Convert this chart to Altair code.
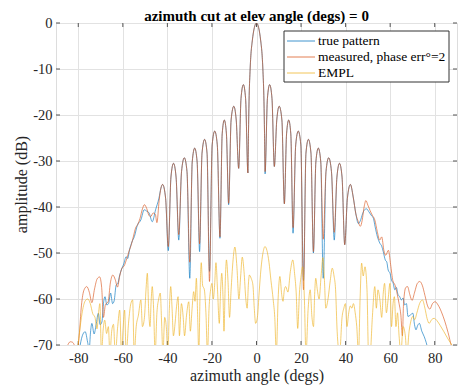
import altair as alt
import pandas as pd

SERIES = ["true pattern", "measured, phase err°=2", "EMPL"]
COLORS = ["#0072BD", "#D95319", "#EDB120"]

x_ticks = [-80, -60, -40, -20, 0, 20, 40, 60, 80]
y_ticks = [-70, -60, -50, -40, -30, -20, -10, 0]

# central lobes (shared azimuths)
center_x = [-42.15, -40.8, -39.6, -38.4, -37.25, -36.1, -34.9, -33.65, -32.4, -31.2,
            -29.95, -28.85, -27.75, -26.65, -25.55, -24.45, -23.3, -22.2, -21.1, -19.9,
            -18.75, -17.6, -16.4, -15.4, -14.45, -13.5, -12.5, -11.4, -10.2, -9.1,
            -8.0, -6.95, -5.9, -4.9, -3.85, -3.6, -3.35, -2.9, -1.9, 0.0,
            1.9, 2.9, 3.35, 3.6, 3.85, 4.9, 5.9, 6.95, 8.0, 9.1,
            10.2, 11.4, 12.5, 13.5, 14.45, 15.4, 16.4, 17.6, 18.75, 19.9,
            21.1, 22.2, 23.3, 24.45, 25.55, 26.65, 27.75, 28.85, 29.95, 31.2,
            32.4, 33.65, 34.9, 36.1, 37.25, 38.4, 39.6, 40.8, 42.15]
meas_center_db = [-35.1, -38.1, -48.6, -33.5, -30.5, -33.5, -46.0, -32.3, -29.3, -32.3,
                  -52.0, -30.2, -27.2, -30.2, -48.0, -28.3, -25.3, -28.3, -56.2, -26.5,
                  -23.5, -26.5, -46.5, -24.1, -21.1, -24.1, -39.2, -21.1, -18.1, -21.1,
                  -31.6, -16.4, -13.4, -16.4, -32.6, -24.0, -17.0, -10.5, -3.9, 0.0,
                  -3.9, -10.5, -17.0, -24.0, -32.3, -16.4, -13.4, -16.4, -31.2, -21.1,
                  -18.1, -21.1, -39.3, -24.1, -21.1, -24.1, -44.5, -26.5, -23.5, -26.5,
                  -58.0, -28.3, -25.3, -28.3, -49.7, -30.2, -27.2, -30.2, -47.0, -32.3,
                  -29.3, -32.3, -45.5, -33.5, -30.5, -33.5, -48.2, -38.1, -35.1]
true_center_db = [-35.1, -38.1, -49.5, -33.5, -30.5, -33.5, -47.2, -32.3, -29.3, -32.3,
                  -55.5, -30.2, -27.2, -30.2, -49.7, -28.3, -25.3, -28.3, -54.0, -26.5,
                  -23.5, -26.5, -46.8, -24.1, -21.1, -24.1, -39.5, -21.1, -18.1, -21.1,
                  -31.6, -16.4, -13.4, -16.4, -32.6, -24.0, -17.0, -10.5, -3.9, 0.0,
                  -3.9, -10.5, -17.0, -24.0, -32.8, -16.4, -13.4, -16.4, -31.2, -21.1,
                  -18.1, -21.1, -39.3, -24.1, -21.1, -24.1, -45.7, -26.5, -23.5, -26.5,
                  -56.0, -28.3, -25.3, -28.3, -50.0, -30.2, -27.2, -30.2, -55.5, -32.3,
                  -29.3, -32.3, -47.2, -33.5, -30.5, -33.5, -48.2, -38.1, -35.1]

# outer parts of the measured pattern
meas_left_x = [-85.0, -83.6, -82.6, -81.6, -80.6, -79.6, -78.6, -77.4, -76.2, -75.0,
               -73.9, -72.7, -71.5, -70.4, -69.5, -68.7, -67.8, -66.6, -65.6, -64.5,
               -63.4, -62.4, -61.4, -60.4, -59.4, -58.3, -57.2, -56.2, -55.2, -54.3,
               -53.3, -52.3, -51.2, -50.3, -49.3, -48.3, -47.5, -46.4, -45.4, -44.7,
               -43.7, -42.9]
meas_left_db = [-70.3, -69.3, -69.4, -70.2, -71.5, -68.0, -61.5, -58.0, -57.3, -58.6,
                -60.8, -57.8, -55.6, -55.2, -57.5, -64.0, -61.2, -60.6, -56.5, -54.8,
                -55.8, -57.4, -55.0, -53.3, -52.8, -51.3, -49.6, -48.2, -46.3, -44.6,
                -43.8, -42.5, -40.4, -39.5, -40.3, -41.8, -42.1, -41.3, -41.6, -43.4,
                -38.6, -35.9]
meas_right_x = [43.4, 44.6, 45.7, 46.6, 47.4, 48.3, 49.1, 50.0, 51.0, 52.0,
                53.1, 54.2, 55.3, 56.2, 57.2, 58.0, 59.2, 60.2, 61.2, 62.2,
                63.2, 64.0, 64.8, 65.5, 66.0, 67.0, 67.8, 68.8, 69.8, 71.0,
                72.2, 73.3, 74.4, 75.6, 76.8, 77.8, 79.0, 80.2, 81.5, 83.0,
                84.5, 86.0, 87.5, 88.5]
meas_right_db = [-37.8, -41.5, -43.2, -44.2, -43.0, -40.0, -38.6, -39.6, -40.8, -41.8,
                 -42.8, -45.3, -47.2, -46.5, -49.5, -50.5, -49.4, -52.5, -56.0, -57.0,
                 -59.0, -61.0, -63.5, -68.0, -61.0, -57.5, -57.3, -59.0, -60.3, -58.5,
                 -56.6, -56.2, -57.0, -59.2, -61.5, -62.2, -61.0, -60.6, -61.3, -62.8,
                 -64.8, -67.3, -70.2, -71.5]

# outer parts of the true pattern
true_left_x = [-79.5, -78.2, -76.9, -75.8, -75.1, -74.5, -73.9, -72.9, -72.0, -71.0,
               -70.2, -69.4, -68.6, -68.0, -67.2, -66.4, -65.5, -64.6, -63.9, -63.0,
               -62.2, -61.5, -60.7, -59.6, -58.5, -57.8, -57.0, -55.9, -54.8, -53.5,
               -51.9, -50.4, -49.3, -48.2, -46.8, -45.3, -43.8, -42.9]
true_left_db = [-71.0, -68.0, -67.1, -69.4, -71.0, -67.2, -65.3, -67.6, -65.6, -63.1,
                -65.6, -65.0, -60.6, -59.5, -61.3, -61.0, -58.7, -61.0, -60.4, -57.0,
                -56.6, -55.0, -53.7, -52.4, -50.8, -51.2, -49.3, -47.6, -46.4, -44.0,
                -42.8, -40.6, -40.9, -41.3, -43.2, -40.6, -38.1, -35.9]
true_right_x = [43.4, 44.6, 45.7, 46.6, 47.6, 48.5, 49.4, 50.4, 51.5, 52.5,
                53.2, 54.3, 55.4, 56.2, 56.9, 57.8, 58.5, 59.1, 60.0, 60.6,
                61.3, 62.1, 62.8, 63.5, 64.3, 65.0, 65.8, 66.5, 67.3, 68.0,
                69.0, 70.2, 70.9, 71.6, 72.3, 73.1, 74.2, 75.3, 76.2, 77.0]
true_right_db = [-37.8, -41.5, -43.6, -43.0, -41.5, -40.6, -40.4, -41.0, -41.8, -42.5,
                 -44.2, -46.5, -47.9, -48.5, -49.7, -51.5, -52.0, -53.7, -54.5, -55.9,
                 -56.5, -58.0, -57.5, -59.0, -59.5, -60.2, -59.8, -61.3, -61.0, -63.8,
                 -63.5, -63.1, -65.5, -66.7, -65.8, -65.3, -67.0, -68.2, -69.5, -71.0]

# EMPL curve
empl_x = [-80.5, -79.5, -78.3, -77.0, -75.8, -74.6, -73.5, -72.5, -71.6, -70.9,
          -70.3, -69.6, -68.8, -68.1, -67.3, -66.5, -65.8, -65.0, -64.2, -63.4,
          -62.3, -61.4, -60.6, -59.9, -59.2, -58.5, -57.4, -56.4, -55.6, -54.9,
          -54.0, -53.0, -51.9, -51.2, -50.3, -49.6, -49.0, -48.4, -47.8, -47.3,
          -46.8, -46.2, -45.5, -44.7, -43.9, -43.2, -42.6, -42.0, -41.2, -40.5,
          -39.8, -39.1, -38.5, -37.9, -37.3, -36.5, -35.9, -35.2, -34.6, -33.7,
          -32.9, -32.3, -31.4, -30.4, -29.7, -28.9, -28.2, -27.6, -27.0, -26.4,
          -25.9, -25.3, -24.8, -24.2, -23.4, -22.7, -22.0, -21.3, -20.6, -20.0,
          -19.4, -18.8, -18.2, -17.5, -16.7, -16.1, -15.6, -15.0, -14.6, -14.0,
          -13.5, -12.8, -12.1, -11.4, -10.6, -9.7, -8.8, -7.9, -7.1, -6.4,
          -5.6, -4.8, -4.2, -3.6, -3.2, -2.4, -1.6, -1.0, -0.4, 0.4,
          1.2, 2.0, 2.9, 3.8, 4.7, 5.6, 6.5, 7.5, 8.2, 8.9,
          9.7, 10.5, 11.3, 11.9, 12.5, 13.1, 14.1, 15.2, 16.3, 17.1,
          17.8, 18.5, 19.3, 20.0, 20.7, 21.5, 22.2, 23.2, 24.1, 24.9,
          25.6, 26.1, 26.6, 27.3, 28.1, 29.0, 29.8, 30.5, 31.1, 32.1,
          33.1, 34.0, 34.8, 35.5, 36.2, 37.3, 38.4, 39.2, 39.9, 40.6,
          41.4, 42.1, 42.8, 43.5, 44.3, 45.0, 45.8, 46.5, 47.2, 47.9,
          48.7, 49.6, 50.3, 51.0, 52.0, 53.1, 53.8, 54.5, 55.4, 56.2,
          56.9, 57.5, 58.3, 59.1, 59.9, 60.6, 61.3, 61.9, 62.6, 63.3,
          64.0, 64.8, 65.8, 66.8, 67.5, 68.5, 69.3, 70.1, 71.0, 72.0,
          73.2, 74.5, 75.6, 76.6, 77.5, 78.6, 79.7, 81.0, 82.5, 84.0,
          85.5, 87.0, 88.5]
empl_db = [-72.0, -67.5, -63.1, -60.5, -60.0, -61.0, -63.2, -64.0, -66.5, -63.0,
           -61.0, -72.0, -66.5, -64.6, -67.5, -66.0, -72.0, -67.0, -65.5, -72.0,
           -66.0, -62.4, -72.0, -66.5, -62.4, -72.0, -65.0, -61.0, -60.2, -72.0,
           -66.0, -63.5, -60.2, -66.0, -64.0, -58.0, -54.4, -62.5, -66.0, -60.5,
           -57.3, -62.0, -72.0, -63.0, -60.0, -58.7, -65.0, -72.0, -64.0, -66.0,
           -72.0, -62.0, -57.3, -62.0, -68.0, -65.0, -61.7, -59.5, -68.0, -61.0,
           -64.0, -68.0, -63.5, -60.6, -67.0, -62.0, -58.4, -60.5, -55.5, -64.0,
           -72.0, -58.0, -52.1, -57.0, -58.0, -63.0, -72.0, -62.0, -58.0, -56.6,
           -60.0, -57.0, -52.1, -58.0, -65.3, -58.0, -54.4, -60.0, -67.0, -56.0,
           -51.5, -56.0, -64.0, -58.0, -52.0, -48.7, -53.0, -60.0, -55.0, -50.9,
           -54.0, -60.0, -62.0, -56.5, -54.8, -55.5, -57.0, -62.0, -65.3, -64.0,
           -58.5, -53.5, -50.0, -48.6, -49.5, -52.0, -56.0, -60.2, -64.0, -72.0,
           -60.0, -55.1, -59.0, -60.5, -58.0, -57.3, -58.5, -54.0, -51.5, -54.5,
           -58.5, -66.4, -58.5, -55.0, -53.0, -60.0, -72.0, -62.0, -58.0, -64.0,
           -66.0, -59.0, -55.5, -58.0, -60.0, -55.0, -51.0, -56.0, -62.0, -60.0,
           -56.0, -53.3, -55.0, -58.0, -67.0, -72.0, -64.0, -62.0, -61.0, -66.0,
           -63.0, -61.5, -62.0, -61.0, -63.0, -66.0, -72.0, -60.0, -52.2, -55.0,
           -53.0, -58.0, -72.0, -72.0, -64.0, -57.3, -62.0, -58.0, -60.2, -64.0,
           -58.7, -56.6, -63.0, -60.0, -56.6, -66.0, -61.0, -59.5, -66.0, -63.0,
           -68.0, -72.0, -66.0, -68.0, -72.0, -67.0, -64.8, -63.8, -64.5, -63.0,
           -61.0, -60.2, -62.0, -64.3, -65.3, -64.5, -64.2, -64.7, -65.8, -67.0,
           -68.3, -69.5, -70.5]


def frame(xs, ys, name):
    return pd.DataFrame({"az": xs, "amp": ys, "series": name})


true_df = frame(true_left_x + center_x + true_right_x,
                true_left_db + true_center_db + true_right_db, SERIES[0])
meas_df = frame(meas_left_x + center_x + meas_right_x,
                meas_left_db + meas_center_db + meas_right_db, SERIES[1])
empl_df = frame(empl_x, empl_db, SERIES[2])

SERIF = "Liberation Serif"
W, H = 401, 322
TITLE = "azimuth cut at elev angle (degs) = 0"

xscale = alt.Scale(domain=[-90, 90], nice=False, zero=False)
yscale = alt.Scale(domain=[-70, 0], nice=False, zero=False)
xaxis = alt.Axis(values=x_ticks, title="azimuth angle (degs)", grid=True, tickSize=0,
                 domain=False, labelExpr="'' + datum.value", labelFont=SERIF,
                 labelFontSize=14.5, labelColor="#262626", labelPadding=6,
                 titleFont=SERIF, titleFontSize=16, titleFontWeight="normal",
                 titleColor="#262626", titlePadding=3, gridColor="#e2e2e2")
yaxis = alt.Axis(values=y_ticks, title="amplitude (dB)", grid=True, tickSize=0,
                 domain=False, labelExpr="'' + datum.value", labelFont=SERIF,
                 labelFontSize=14.5, labelColor="#262626", labelPadding=4,
                 titleFont=SERIF, titleFontSize=16, titleFontWeight="normal",
                 titleColor="#262626", titlePadding=3, gridColor="#e2e2e2")
color = alt.Color("series:N", scale=alt.Scale(domain=SERIES, range=COLORS), legend=None)


def line(df):
    return alt.Chart(df).mark_line(clip=True, strokeWidth=0.9, interpolate="monotone",
                                   opacity=0.7).encode(
        x=alt.X("az:Q", scale=xscale, axis=xaxis),
        y=alt.Y("amp:Q", scale=yscale, axis=yaxis),
        color=color,
    )


xt = pd.DataFrame({"t": x_ticks})
yt = pd.DataFrame({"t": y_ticks})
tick_color = "#555555"
ticks = [
    alt.Chart(xt).mark_rule(color=tick_color).encode(
        x=alt.X("t:Q", scale=xscale, axis=xaxis), y=alt.value(H), y2=alt.value(H - 4)),
    alt.Chart(xt).mark_rule(color=tick_color).encode(
        x=alt.X("t:Q", scale=xscale, axis=xaxis), y=alt.value(0), y2=alt.value(4)),
    alt.Chart(yt).mark_rule(color=tick_color).encode(
        y=alt.Y("t:Q", scale=yscale, axis=yaxis), x=alt.value(0), x2=alt.value(4)),
    alt.Chart(yt).mark_rule(color=tick_color).encode(
        y=alt.Y("t:Q", scale=yscale, axis=yaxis), x=alt.value(W), x2=alt.value(W - 4)),
]

# legend box and title drawn by hand
one = pd.DataFrame({"k": [0]})
LX0, LX1 = W - 173, W - 8
legend_layers = [
    alt.Chart(one).mark_rect(fill="white", stroke="#333333", strokeWidth=1).encode(
        x=alt.value(LX0), x2=alt.value(LX1), y=alt.value(8), y2=alt.value(59)),
]
for i, (name, col) in enumerate(zip(SERIES, COLORS)):
    ry = 18 + 16 * i
    legend_layers.append(
        alt.Chart(one).mark_rule(color=col, strokeWidth=1, opacity=0.75).encode(
            x=alt.value(LX0 + 3), x2=alt.value(LX0 + 31), y=alt.value(ry)))
    legend_layers.append(
        alt.Chart(one).mark_text(align="left", baseline="middle", font=SERIF,
                                 fontSize=13.5, color="black").encode(
            x=alt.value(LX0 + 34), y=alt.value(ry), text=alt.value(name)))

title_layer = alt.Chart(one).mark_text(
    align="center", baseline="alphabetic", font=SERIF, fontSize=15,
    fontWeight="bold", color="black").encode(
    x=alt.value(W / 2), y=alt.value(-2.5), text=alt.value(TITLE))

chart = alt.layer(
    *ticks, line(true_df), line(meas_df), line(empl_df), *legend_layers, title_layer
).properties(
    width=W, height=H,
    autosize=alt.AutoSizeParams(type="none"),
    padding={"left": 48, "top": 15, "right": 1, "bottom": 40},
).configure_view(stroke="#666666", strokeWidth=1).configure(background="white")

chart.save("out.html", embed_options={"renderer": "svg", "actions": False})
